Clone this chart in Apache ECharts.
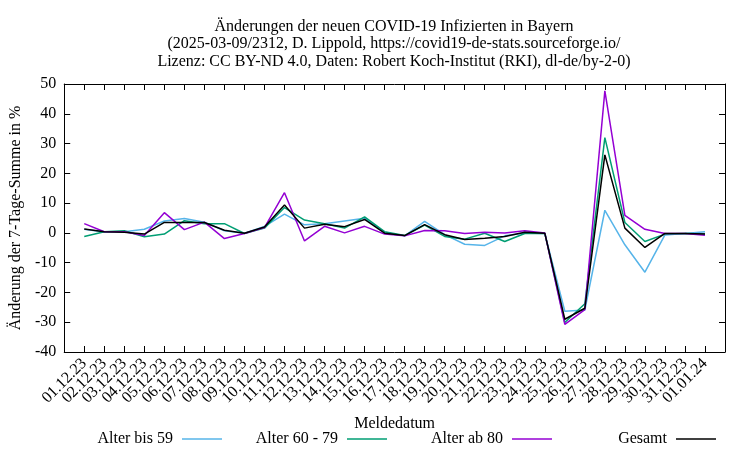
<!DOCTYPE html>
<html>
<head>
<meta charset="utf-8">
<script src="https://cdn.jsdelivr.net/npm/echarts@6/dist/echarts.min.js"></script>
<style>html,body{margin:0;padding:0;background:#fff}#c{width:750px;height:450px}</style>
</head>
<body>
<div id="c"></div>
<script>
const dates = ['01.12.23','02.12.23','03.12.23','04.12.23','05.12.23','06.12.23','07.12.23','08.12.23','09.12.23','10.12.23','11.12.23','12.12.23','13.12.23','14.12.23','15.12.23','16.12.23','17.12.23','18.12.23','19.12.23','20.12.23','21.12.23','22.12.23','23.12.23','24.12.23','25.12.23','26.12.23','27.12.23','28.12.23','29.12.23','30.12.23','31.12.23','01.01.24'];
const alterBis59 = [1.2,0.3,0.4,1.2,4.0,4.8,3.6,0.7,-0.1,2.2,6.3,2.7,3.1,4.0,4.9,0.1,-1.0,3.9,-0.6,-3.8,-4.2,-1.0,0.0,-0.2,-26.3,-25.9,7.6,-4.0,-13.2,-0.7,-0.2,0.4];
const alter60bis79 = [-1.2,0.4,0.7,-1.3,-0.4,4.1,3.1,3.1,-0.2,1.6,8.5,4.3,3.1,1.6,5.4,0.4,-0.9,2.6,-1.2,-2.1,-0.1,-2.9,-0.2,-0.1,-30.1,-23.8,32.0,3.5,-2.9,-0.4,-0.2,-0.4];
const alterAb80 = [3.1,0.4,0.4,-0.9,6.8,1.1,3.6,-1.9,-0.2,1.8,13.5,-2.7,2.2,0.0,2.2,-0.4,-1.0,0.8,0.7,-0.2,0.2,0.0,0.7,0.0,-30.7,-25.8,47.7,5.9,1.2,-0.2,-0.2,-0.8];
const gesamt = [1.3,0.4,0.2,-0.4,3.5,3.5,3.5,0.9,-0.1,2.0,9.4,1.6,2.9,2.1,4.5,-0.1,-0.9,2.8,-0.6,-2.2,-1.8,-1.2,0.2,-0.1,-29.0,-25.3,26.2,1.6,-4.9,-0.2,-0.2,-0.4];
const seriesNames = ['Alter bis 59','Alter 60 - 79','Alter ab 80','Gesamt'];
const yTicks = [-40,-30,-20,-10,0,10,20,30,40,50];

const F = 'Liberation Serif, Times New Roman, serif';
const colors = ['#56b4e9','#009e73','#9400d3','#000000'];
const allData = [alterBis59, alter60bis79, alterAb80, gesamt];

const chart = echarts.init(document.getElementById('c'), null, {renderer:'canvas'});
const axisCommon = {
  axisLine:{show:true, onZero:false, lineStyle:{color:'#000', width:1}},
  axisTick:{show:true, inside:true, length:6, lineStyle:{color:'#000', width:1}},
  splitLine:{show:false}
};
const legendRights = [528, 363, 198, 34];
chart.setOption({
  animation:false,
  backgroundColor:'#fff',
  title:{
    text:'Änderungen der neuen COVID-19 Infizierten in Bayern\n(2025-03-09/2312, D. Lippold, https://covid19-de-stats.sourceforge.io/\nLizenz: CC BY-ND 4.0, Daten: Robert Koch-Institut (RKI), dl-de/by-2-0)',
    left:394, textAlign:'center', top:18, padding:0,
    textStyle:{fontFamily:F, fontSize:16, fontWeight:'normal', color:'#000', lineHeight:17.5}
  },
  legend: seriesNames.map((n,i)=>({
    data:[n], right:legendRights[i], top:431, padding:0, align:'right',
    icon:'rect', itemWidth:40, itemHeight:1.5,
    textStyle:{fontFamily:F, fontSize:16, color:'#000', padding:[0,4,0,0]}
  })),
  grid:{left:63, right:25, top:84, bottom:98, containLabel:false},
  xAxis:[
    Object.assign({}, axisCommon, {
      type:'value', min:-1, max:32, interval:1, position:'bottom',
      name:'Meldedatum', nameLocation:'middle', nameGap:64,
      nameTextStyle:{fontFamily:F, fontSize:16, color:'#000'},
      axisLabel:{rotate:45, margin:9, fontFamily:F, fontSize:16, color:'#000',
        showMinLabel:true, showMaxLabel:true,
        formatter:function(v){ const k=Math.round(v); return dates[k] || ''; }}
    }),
    Object.assign({}, axisCommon, {
      type:'value', min:-1, max:32, interval:1, position:'top', axisLabel:{show:false}
    })
  ],
  yAxis:[
    Object.assign({}, axisCommon, {
      type:'value', min:yTicks[0], max:yTicks[yTicks.length-1], interval:10, position:'left',
      name:'Änderung der 7-Tage-Summe in %', nameLocation:'middle', nameGap:40,
      nameTextStyle:{fontFamily:F, fontSize:16, color:'#000'},
      axisLabel:{margin:8, fontFamily:F, fontSize:16, color:'#000'}
    }),
    Object.assign({}, axisCommon, {
      type:'value', min:yTicks[0], max:yTicks[yTicks.length-1], interval:10, position:'right', axisLabel:{show:false}
    })
  ],
  series: seriesNames.map((n,i)=>({
    name:n, type:'line', xAxisIndex:0, yAxisIndex:0,
    symbol:'none', showSymbol:false,
    lineStyle:{color:colors[i], width:1.5},
    itemStyle:{color:colors[i]},
    data: dates.map((d,k)=>[k, allData[i][k]])
  }))
});
</script>
</body>
</html>
